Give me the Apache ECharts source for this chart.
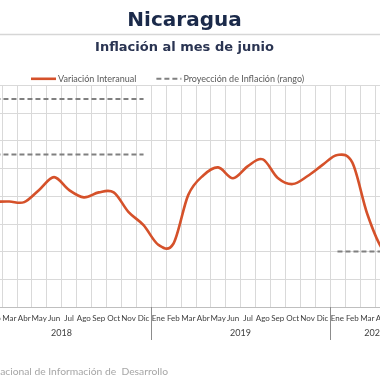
<!DOCTYPE html>
<html>
<head>
<meta charset="utf-8">
<script src="https://cdn.jsdelivr.net/npm/echarts@6/dist/echarts.min.js"></script>
<style>html,body{margin:0;padding:0;background:#fff;}#c{width:380px;height:380px;}</style>
</head>
<body>
<div id="c"></div>
<script>
// ---- data ----
const monthNames = ['Ene','Feb','Mar','Abr','May','Jun','Jul','Ago','Sep','Oct','Nov','Dic'];
const yearLabels = ['2018','2019','2020'];
const monthsPerYear = [12, 12, 6];
const inflacion2018 = [4.75, 4.79, 4.80, 4.78, 5.22, 5.68, 5.22, 4.95, 5.13, 5.13, 4.42, 3.95];
const inflacion2019 = [3.24, 3.28, 5.04, 5.74, 6.03, 5.64, 6.08, 6.32, 5.65, 5.43, 5.72, 6.12];
const inflacion2020 = [6.48, 6.20, 4.35, 3.10, 2.80, 2.70];
const proySuperior = [8.5, null, null];   // per year
const proyInferior = [6.5, null, 3.0];    // per year
const yTicks = {min: 1, max: 9, interval: 1};

// ---- build ----
const categories = [];
yearLabels.forEach((y, i) => { for (let m = 0; m < monthsPerYear[i]; m++) categories.push(monthNames[m]); });
const inflacion = inflacion2018.concat(inflacion2019, inflacion2020);
function perYear(arr) {
  const out = [];
  arr.forEach((v, i) => { for (let m = 0; m < monthsPerYear[i]; m++) out.push(v); });
  return out;
}
const supData = perYear(proySuperior);
const infData = perYear(proyInferior);
const total = categories.length;
const yearCenters = [], yearBounds = [];
let acc = 0;
monthsPerYear.forEach(n => { yearCenters.push(acc + n / 2); acc += n; yearBounds.push(acc); });

// smooth (Catmull-Rom) line through the axis-mapped points
function renderSmooth(params, api) {
  if (params.dataIndex !== 0) return null;
  const pts = inflacion.map((v, i) => api.coord([i, v]));
  const n = pts.length;
  let d = 'M' + pts[0][0] + ' ' + pts[0][1];
  for (let i = 0; i < n - 1; i++) {
    const p0 = pts[Math.max(i - 1, 0)], p1 = pts[i], p2 = pts[i + 1], p3 = pts[Math.min(i + 2, n - 1)];
    const c1x = p1[0] + (p2[0] - p0[0]) / 6, c1y = p1[1] + (p2[1] - p0[1]) / 6;
    const c2x = p2[0] - (p3[0] - p1[0]) / 6, c2y = p2[1] - (p3[1] - p1[1]) / 6;
    d += ' C' + c1x + ' ' + c1y + ' ' + c2x + ' ' + c2y + ' ' + p2[0] + ' ' + p2[1];
  }
  return {type: 'path', shape: {pathData: d}, style: {stroke: '#d5512a', lineWidth: 2.6, fill: null, lineJoin: 'round', lineCap: 'round'}, z2: 10};
}

const FONT = 'Lato';
const chart = echarts.init(document.getElementById('c'), null, {renderer: 'canvas'});
const monthW = 179 / 12;
const gridLeft = 151 - 12 * monthW;
const gridW = total * monthW;
chart.setOption({
  animation: false,
  backgroundColor: '#ffffff',
  graphic: [
    {type: 'text', x: 184.5, y: 21, style: {text: 'Nicaragua', align: 'center', verticalAlign: 'middle', fontFamily: 'DejaVu Sans', fontWeight: 'bold', fontSize: 20, fill: '#1b2a4a'}},
    {type: 'line', shape: {x1: 0, y1: 34.5, x2: 380, y2: 34.5}, style: {stroke: '#d6d6d6', lineWidth: 1.5}},
    {type: 'text', x: 184.5, y: 48, style: {text: 'Inflación al mes de junio', align: 'center', verticalAlign: 'middle', fontFamily: 'DejaVu Sans', fontWeight: 'bold', fontSize: 13, fill: '#2a3452'}},
    {type: 'text', x: 168, y: 372, style: {text: 'Fuente: Sistema Nacional de Información de  Desarrollo', align: 'right', verticalAlign: 'middle', fontFamily: FONT, fontSize: 10.3, fill: '#a6a6a6'}}
  ],
  legend: {
    left: 26, top: 69, itemWidth: 25, itemHeight: 12, itemGap: 19,
    textStyle: {fontFamily: FONT, fontSize: 9, color: '#595959', padding: [0, 0, 0, -3]},
    data: [
      {name: 'Variación Interanual', icon: 'path://M0 0H25V2.6H0Z'},
      {name: 'Proyección de Inflación (rango)', itemStyle: {opacity: 0}}
    ]
  },
  grid: {left: gridLeft, right: 380 - (gridLeft + gridW), top: 85, bottom: 73, outerBoundsMode: 'none', containLabel: false},
  xAxis: [
    {
      type: 'category', data: categories, boundaryGap: true, position: 'bottom',
      axisLine: {show: true, lineStyle: {color: '#bfbfbf', width: 1}},
      axisTick: {show: false},
      axisLabel: {interval: 0, margin: 7, fontFamily: FONT, fontSize: 8, color: '#404040'},
      splitLine: {show: true, interval: 0, lineStyle: {color: '#d9d9d9', width: 1}}
    },
    {
      type: 'value', min: 0, max: total, position: 'bottom',
      axisLine: {show: false},
      axisTick: {show: true, customValues: yearBounds.slice(0, -1), length: 33, lineStyle: {color: '#8c8c8c', width: 1}},
      axisLabel: {customValues: yearCenters, margin: 22, fontFamily: FONT, fontSize: 9, color: '#404040',
        formatter: v => { const i = yearCenters.indexOf(v); return i >= 0 ? yearLabels[i] : ''; }},
      splitLine: {show: false}
    }
  ],
  yAxis: {
    type: 'value', min: yTicks.min, max: yTicks.max, interval: yTicks.interval,
    axisLabel: {show: false}, axisLine: {show: false}, axisTick: {show: false},
    splitLine: {show: true, lineStyle: {color: '#d9d9d9', width: 1}}
  },
  series: [
    {name: 'Variación Interanual', type: 'custom', data: inflacion.map((v, i) => [i, v]),
     encode: {x: 0, y: 1}, renderItem: renderSmooth, itemStyle: {color: '#d5512a'}, clip: false, z: 5},
    {name: 'Proyección de Inflación (rango)', type: 'line', data: supData, symbol: 'none',
     lineStyle: {color: '#808080', width: 2, type: [5, 3]}, itemStyle: {color: '#808080'}},
    {name: 'Proyección de Inflación (rango)', type: 'line', data: infData, symbol: 'none',
     lineStyle: {color: '#808080', width: 2, type: [5, 3]}, itemStyle: {color: '#808080'}}
  ]
});
</script>
</body>
</html>
